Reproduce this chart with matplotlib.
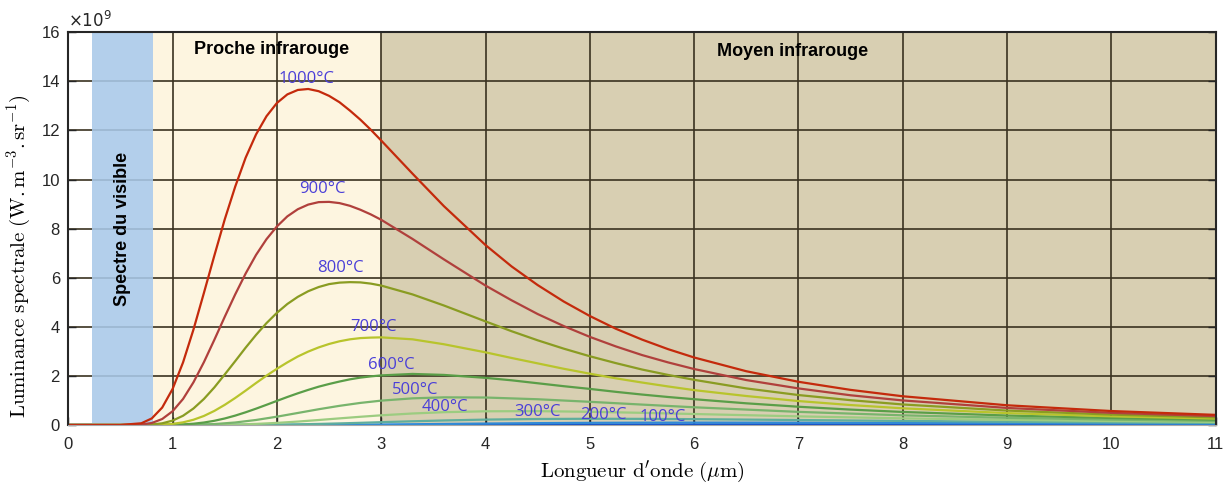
import matplotlib
matplotlib.use("Agg")
import matplotlib.pyplot as plt
from matplotlib import font_manager as fm

# spectral radiance, in units of 1e9 W.m-3.sr-1
# hot curves (600..1000 C) read on a finer wavelength grid (um)
wavelength_hot = [0, 0.5, 0.7, 0.8, 0.9, 1.0, 1.1, 1.2, 1.3, 1.4, 1.5, 1.6, 1.7, 1.8, 1.9,
                  2.0, 2.1, 2.2, 2.3, 2.4, 2.5, 2.6, 2.7, 2.8, 2.9, 3.0, 3.3, 3.6,
                  4.0, 4.25, 4.5, 4.75, 5.0, 5.25, 5.5, 5.75, 6.0, 6.5, 7.0, 7.5, 8.0, 9.0, 10.0, 11.0]
t1000 = [0, 0.0006, 0.069, 0.266, 0.709, 1.47, 2.55, 3.89, 5.38, 6.90, 8.38, 9.71, 10.89, 11.84, 12.58,
         13.12, 13.47, 13.65, 13.69, 13.60, 13.41, 13.15, 12.81, 12.44, 12.03, 11.59, 10.24, 8.92,
         7.33, 6.46, 5.70, 5.03, 4.44, 3.92, 3.48, 3.09, 2.75, 2.19, 1.76, 1.43, 1.17, 0.803, 0.568, 0.412]
t900 = [0, 0, 0.017, 0.080, 0.243, 0.561, 1.06, 1.74, 2.56, 3.47, 4.41, 5.32, 6.17, 6.93, 7.57,
        8.09, 8.50, 8.79, 8.98, 9.08, 9.09, 9.04, 8.93, 8.77, 8.58, 8.36, 7.58, 6.75,
        5.68, 5.08, 4.52, 4.03, 3.59, 3.20, 2.85, 2.55, 2.28, 1.83, 1.49, 1.21, 1.00, 0.694, 0.494, 0.361]
t800 = [0, 0, 0.003, 0.019, 0.068, 0.179, 0.376, 0.672, 1.06, 1.53, 2.06, 2.60, 3.15, 3.67, 4.15,
        4.57, 4.93, 5.22, 5.45, 5.62, 5.74, 5.80, 5.82, 5.81, 5.76, 5.68, 5.32, 4.87,
        4.22, 3.82, 3.45, 3.11, 2.80, 2.52, 2.26, 2.04, 1.84, 1.49, 1.22, 1.01, 0.836, 0.587, 0.422, 0.310]
t700 = [0, 0, 0, 0.003, 0.015, 0.045, 0.107, 0.213, 0.368, 0.573, 0.821, 1.10, 1.40, 1.71, 2.01,
        2.29, 2.55, 2.79, 2.99, 3.16, 3.30, 3.41, 3.49, 3.54, 3.56, 3.57, 3.49, 3.29,
        2.96, 2.73, 2.51, 2.29, 2.09, 1.90, 1.73, 1.57, 1.42, 1.18, 0.975, 0.812, 0.679, 0.484, 0.352, 0.261]
t600 = [0, 0, 0, 0, 0.002, 0.008, 0.023, 0.052, 0.100, 0.171, 0.265, 0.382, 0.517, 0.665, 0.822,
        0.982, 1.14, 1.29, 1.43, 1.56, 1.67, 1.77, 1.86, 1.93, 1.98, 2.02, 2.08, 2.04,
        1.92, 1.82, 1.70, 1.58, 1.47, 1.35, 1.24, 1.14, 1.05, 0.883, 0.743, 0.627, 0.531, 0.385, 0.284, 0.213]

# cooler curves (100..500 C) on a coarser grid
wavelength_cool = [0, 0.5, 0.7, 0.8, 0.9, 1.0, 1.2, 1.4, 1.6, 1.8, 2.0, 2.2, 2.4, 2.6,
                   2.8, 3.0, 3.3, 3.6, 4.0, 4.5, 5.0, 5.5, 6.0, 7.0, 8.0, 9.0, 10.0, 11.0]
t500 = [0, 0, 0, 0, 0, 0.001, 0.009, 0.037, 0.101, 0.204, 0.338, 0.489, 0.641, 0.780,
        0.899, 0.992, 1.085, 1.126, 1.119, 1.048, 0.944, 0.831, 0.721, 0.534, 0.393, 0.292, 0.219, 0.167]
t400 = [0, 0, 0, 0, 0, 0, 0.001, 0.005, 0.018, 0.044, 0.085, 0.139, 0.202, 0.269,
        0.334, 0.394, 0.468, 0.521, 0.558, 0.563, 0.537, 0.495, 0.447, 0.351, 0.270, 0.207, 0.159, 0.124]
t300 = [0, 0, 0, 0, 0, 0, 0, 0, 0.002, 0.006, 0.013, 0.026, 0.043, 0.064,
        0.088, 0.114, 0.151, 0.184, 0.219, 0.244, 0.253, 0.249, 0.237, 0.202, 0.165, 0.132, 0.105, 0.084]
t200 = [0, 0, 0, 0, 0, 0, 0, 0, 0, 0, 0.001, 0.002, 0.005, 0.008,
        0.013, 0.019, 0.030, 0.042, 0.058, 0.075, 0.087, 0.094, 0.097, 0.093, 0.083, 0.071, 0.060, 0.050]
t100 = [0, 0, 0, 0, 0, 0, 0, 0, 0, 0, 0, 0, 0, 0,
        0, 0.001, 0.003, 0.004, 0.008, 0.012, 0.017, 0.021, 0.025, 0.029, 0.030, 0.028, 0.026, 0.023]

temp_labels = ["100°C", "200°C", "300°C", "400°C", "500°C", "600°C", "700°C", "800°C", "900°C", "1000°C"]
curves = [t100, t200, t300, t400, t500, t600, t700, t800, t900, t1000]
curve_x = [wavelength_cool] * 5 + [wavelength_hot] * 5
curve_colors = ["#1450c8", "#2f8ad6", "#5fae9c", "#9ccc80", "#78b46c",
                "#5a9e48", "#b8c42c", "#8a9c22", "#b0403c", "#c42a0c"]
label_x = [5.7, 5.13, 4.5, 3.61, 3.33, 3.1, 2.93, 2.61, 2.44, 2.28]
label_y = [0.33, 0.41, 0.53, 0.73, 1.43, 2.45, 4.0, 6.4, 9.6, 14.08]


def have_font(name):
    try:
        fm.findfont(fm.FontProperties(family=name), fallback_to_default=False)
        return True
    except ValueError:
        return False


narrow = have_font("Liberation Sans Narrow")
band_font = ["Liberation Sans Narrow" if narrow else "Liberation Sans", "DejaVu Sans"]
band_size = 13.5 if narrow else 13

plt.rcParams["font.family"] = ["Liberation Sans", "DejaVu Sans"]

fig = plt.figure(figsize=(12.31, 4.90), dpi=100)
ax = fig.add_axes([0.0555, 0.1327, 0.932, 0.8014])

# background bands
ax.axvspan(0.815, 3.0, ymin=0.006, ymax=1, color="#fdf5e0", lw=0, zorder=0.1)
ax.axvspan(3.0, 11.0, ymin=0.006, ymax=1, color="#d8cfb2", lw=0, zorder=0.1)
ax.axvspan(0.225, 0.815, ymin=0.006, ymax=1, color="#a9c9e9", alpha=0.88, lw=0, zorder=0.6)

ax.set_axisbelow(True)
ax.grid(True, color="#3a3220", lw=1.2)

for xs, ys, c in zip(curve_x, curves, curve_colors):
    ax.plot(xs, ys, color=c, lw=1.6, zorder=2)

for lab, lx, ly in zip(temp_labels, label_x, label_y):
    ax.text(lx, ly, lab, color="#4a3fd8", fontsize=12, family=["Open Sans", "DejaVu Sans"],
            ha="center", va="center", zorder=3)

ax.text(0.52, 8.0, "Spectre du visible", rotation=90, ha="center", va="center",
        fontsize=band_size, fontweight="bold", family=band_font, zorder=3)
ax.text(1.95, 15.3, "Proche infrarouge", ha="center", va="center",
        fontsize=band_size, fontweight="bold", family=band_font, zorder=3)
ax.text(6.94, 15.2, "Moyen infrarouge", ha="center", va="center",
        fontsize=band_size, fontweight="bold", family=band_font, zorder=3)

ax.set_xlim(0, 11)
ax.set_ylim(0, 16)
ax.set_xticks(range(0, 12))
ax.set_yticks(range(0, 17, 2))
ax.tick_params(direction="in", length=6, width=1, labelsize=12, colors="#262626",
               right=True, top=False)
ax.tick_params(axis="x", pad=9)
ax.tick_params(axis="y", pad=6)
for s in ["left", "top", "right"]:
    ax.spines[s].set_color("#262626")
    ax.spines[s].set_linewidth(1.5)
ax.spines["bottom"].set_color("#a8a8a8")

ax.text(0.0, 1.006, r"$\times10^{9}$", transform=ax.transAxes, fontsize=12,
        color="#262626", ha="left", va="bottom")

ax.set_ylabel(r"$\mathrm{Luminance\ spectrale\ (W.m^{-3}.sr^{-1})}$", fontsize=15,
              math_fontfamily="cm")
ax.yaxis.set_label_coords(-0.031, 0.43)
ax.set_xlabel(r"$\mathrm{Longueur\ d^{\prime}onde\ (\mu m)}$", fontsize=15,
              math_fontfamily="cm", labelpad=4)

fig.savefig("out.png", dpi=100)
